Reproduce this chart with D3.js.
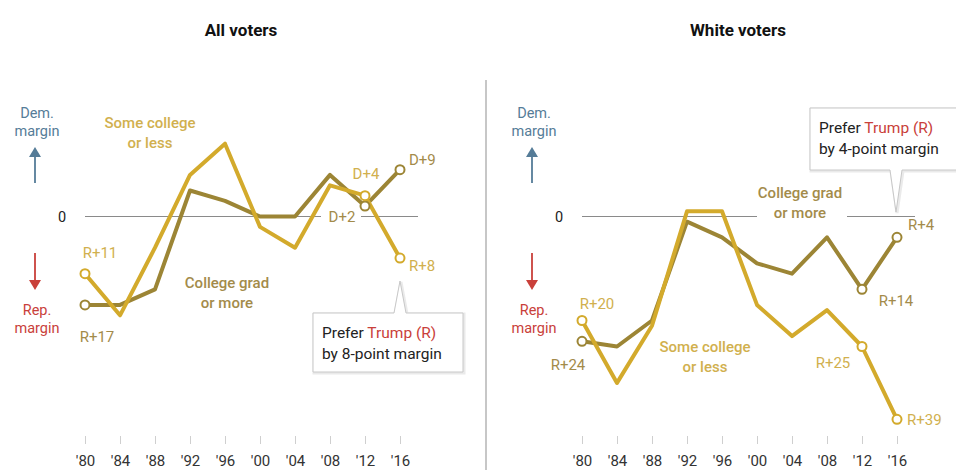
<!DOCTYPE html>
<html>
<head>
<meta charset="utf-8">
<script src="https://cdn.jsdelivr.net/npm/d3@7/dist/d3.min.js"></script>
<style>
  html, body { margin: 0; padding: 0; background: #fff; }
  svg { display: block; }
  text { font-family: Roboto, "Open Sans", sans-serif; }
</style>
</head>
<body>
<svg id="chart" width="956" height="476"></svg>
<script>
// ---- data ----
const years = [1980, 1984, 1988, 1992, 1996, 2000, 2004, 2008, 2012, 2016];
const tickLabels = ["'80", "'84", "'88", "'92", "'96", "'00", "'04", "'08", "'12", "'16"];
const panelTitles = ["All voters", "White voters"];
const allSomeCollege = [-11, -19, -6, 8, 14, -2, -6, 6, 4, -8];
const allCollegeGrad = [-17, -17, -14, 5, 3, 0, 0, 8, 2, 9];
const whiteSomeCollege = [-20, -32, -21, 1, 1, -17, -23, -18, -25, -39];
const whiteCollegeGrad = [-24, -25, -20, -1, -4, -9, -11, -4, -14, -4];
const markedYears = [1980, 2012, 2016];

const LIGHT = "#d3aa2c", DARK = "#9c8535";
const LIGHT_TXT = "#d1b04e", DARK_TXT = "#a38b4a";
const DEM = "#557c98", REP = "#c9403a";

const svg = d3.select("#chart");
const y = d3.scaleLinear().domain([15, -40]).range([216.5 - 15 * 5.2, 216.5 + 40 * 5.2]);

// divider
svg.append("line").attr("x1", 486).attr("x2", 486).attr("y1", 80).attr("y2", 470)
  .attr("stroke", "#b5b5b5").attr("stroke-width", 1.5);

function fmt(v) { return v > 0 ? "D+" + v : (v < 0 ? "R+" + (-v) : "0"); }

function panel(off, title, someC, gradC, cfg) {
  const g = svg.append("g").attr("transform", `translate(${off},0)`);
  const x = d3.scaleLinear().domain([1980, 2016]).range([85, 400]);

  g.append("text").attr("x", 241).attr("y", 36).attr("text-anchor", "middle")
    .attr("font-family", "Liberation Sans, Arial, sans-serif").attr("font-weight", "bold")
    .attr("font-size", 17).attr("fill", "#111").text(title);

  // dem / rep margin indicators
  const side = g.append("g");
  side.append("text").attr("x", 37).attr("y", 118).attr("text-anchor", "middle").attr("font-size", 14.5).attr("fill", DEM).text("Dem.");
  side.append("text").attr("x", 37).attr("y", 136).attr("text-anchor", "middle").attr("font-size", 14.5).attr("fill", DEM).text("margin");
  side.append("line").attr("x1", 35).attr("x2", 35).attr("y1", 183).attr("y2", 155).attr("stroke", DEM).attr("stroke-width", 1.8);
  side.append("path").attr("d", "M29,157 L35,147 L41,157 Z").attr("fill", DEM);
  side.append("line").attr("x1", 35).attr("x2", 35).attr("y1", 253).attr("y2", 282).attr("stroke", REP).attr("stroke-width", 1.8);
  side.append("path").attr("d", "M29,280 L35,290 L41,280 Z").attr("fill", REP);
  side.append("text").attr("x", 37).attr("y", 315).attr("text-anchor", "middle").attr("font-size", 14.5).attr("fill", REP).text("Rep.");
  side.append("text").attr("x", 37).attr("y", 333).attr("text-anchor", "middle").attr("font-size", 14.5).attr("fill", REP).text("margin");
  side.append("text").attr("x", 62).attr("y", y(0) + 5).attr("text-anchor", "middle").attr("font-size", 14.5).attr("fill", "#222").text("0");

  // zero line
  g.append("line").attr("x1", 85).attr("x2", cfg.zeroEnd).attr("y1", y(0)).attr("y2", y(0))
    .attr("stroke", "#8a8a8a").attr("stroke-width", 1.2);
  cfg.gaps.forEach(gp => {
    g.append("rect").attr("x", gp[0]).attr("width", gp[1] - gp[0]).attr("y", y(0) - 3).attr("height", 6).attr("fill", "#fff");
  });

  // x axis ticks
  const axis = d3.axisBottom(x).tickValues(years).tickFormat((d, i) => tickLabels[i]).tickSize(8).tickPadding(11);
  const ax = g.append("g").attr("transform", "translate(0,436)").call(axis);
  ax.select(".domain").remove();
  ax.selectAll(".tick line").attr("stroke", "#cfcfcf");
  ax.selectAll(".tick text").attr("font-size", 15).attr("fill", "#333").attr("font-family", "Roboto, sans-serif");

  const line = d3.line().x((d, i) => x(years[i])).y(d => y(d));
  g.append("path").datum(gradC).attr("d", line).attr("fill", "none").attr("stroke", DARK).attr("stroke-width", 4).attr("stroke-linejoin", "round");
  g.append("path").datum(someC).attr("d", line).attr("fill", "none").attr("stroke", LIGHT).attr("stroke-width", 4).attr("stroke-linejoin", "round");

  [[gradC, DARK], [someC, LIGHT]].forEach(([arr, col]) => {
    g.selectAll(null).data(markedYears).enter().append("circle")
      .attr("cx", d => x(d)).attr("cy", d => y(arr[years.indexOf(d)]))
      .attr("r", 4.5).attr("fill", "#fff").attr("stroke", col).attr("stroke-width", 2);
  });

  // labels
  cfg.labels.forEach(l => {
    const arr = l.s === "some" ? someC : gradC;
    const v = arr[years.indexOf(l.yr)];
    g.append("text").attr("x", x(l.yr) + l.dx).attr("y", y(v) + l.dy)
      .attr("text-anchor", l.anchor || "middle").attr("font-size", 15)
      .attr("fill", l.s === "some" ? LIGHT_TXT : DARK_TXT).text(fmt(v));
  });
  cfg.seriesLabels.forEach(l => {
    const t = g.append("text").attr("x", l.x).attr("y", l.y).attr("text-anchor", "middle")
      .attr("font-size", 15).attr("font-weight", 500).attr("fill", l.s === "some" ? LIGHT_TXT : DARK_TXT);
    t.append("tspan").attr("x", l.x).attr("dy", 0).text(l.lines[0]);
    t.append("tspan").attr("x", l.x).attr("dy", 20).text(l.lines[1]);
  });

  // callout
  const c = cfg.callout;
  let d;
  if (c.up) {
    d = `M${c.x0},${c.y0} H${c.px - 6} L${c.px},${c.tip} L${c.px + 6},${c.y0} H${c.x1} V${c.y1} H${c.x0} Z`;
  } else {
    d = `M${c.x0},${c.y0} H${c.x1} V${c.y1} H${c.px + 6} L${c.px},${c.tip} L${c.px - 6},${c.y1} H${c.x0} Z`;
  }
  g.append("path").attr("d", d).attr("fill", "#fff").attr("stroke", "#ddd").attr("stroke-width", 3).attr("opacity", 0.6)
    .attr("transform", "translate(1,1)");
  g.append("path").attr("d", d).attr("fill", "#fff").attr("stroke", "#c8c8c8").attr("stroke-width", 1);
  const ct = g.append("text").attr("x", c.x0 + 9).attr("y", c.ty).attr("font-size", 15.5).attr("fill", "#222");
  ct.append("tspan").text("Prefer ");
  ct.append("tspan").attr("fill", REP).text("Trump (R)");
  g.append("text").attr("x", c.x0 + 9).attr("y", c.ty + 21).attr("font-size", 15.5).attr("fill", "#222").text(c.line2);
}

panel(0, panelTitles[0], allSomeCollege, allCollegeGrad, {
  zeroEnd: 418,
  gaps: [[321, 361]],
  labels: [
    { s: "some", yr: 1980, dx: 15, dy: -16 },
    { s: "grad", yr: 1980, dx: 12, dy: 37 },
    { s: "some", yr: 2012, dx: 1, dy: -17 },
    { s: "grad", yr: 2012, dx: -23, dy: 16 },
    { s: "grad", yr: 2016, dx: 9, dy: -5, anchor: "start" },
    { s: "some", yr: 2016, dx: 9, dy: 13, anchor: "start" }
  ],
  seriesLabels: [
    { s: "some", x: 150, y: 128, lines: ["Some college", "or less"] },
    { s: "grad", x: 227, y: 288, lines: ["College grad", "or more"] }
  ],
  callout: { x0: 313, x1: 463, y0: 313, y1: 372, px: 400, tip: 281, up: true, ty: 338, line2: "by 8-point margin" }
});

panel(497, panelTitles[1], whiteSomeCollege, whiteCollegeGrad, {
  zeroEnd: 418,
  gaps: [[260, 350]],
  labels: [
    { s: "some", yr: 1980, dx: 15, dy: -12 },
    { s: "grad", yr: 1980, dx: -14, dy: 29 },
    { s: "grad", yr: 2012, dx: 34, dy: 17 },
    { s: "some", yr: 2012, dx: -29, dy: 21 },
    { s: "grad", yr: 2016, dx: 11, dy: -7, anchor: "start" },
    { s: "some", yr: 2016, dx: 10, dy: 6, anchor: "start" }
  ],
  seriesLabels: [
    { s: "grad", x: 303, y: 198, lines: ["College grad", "or more"] },
    { s: "some", x: 208, y: 352, lines: ["Some college", "or less"] }
  ],
  callout: { x0: 313, x1: 470, y0: 108, y1: 170, px: 399, tip: 212, up: false, ty: 133, line2: "by 4-point margin" }
});
</script>
</body>
</html>
